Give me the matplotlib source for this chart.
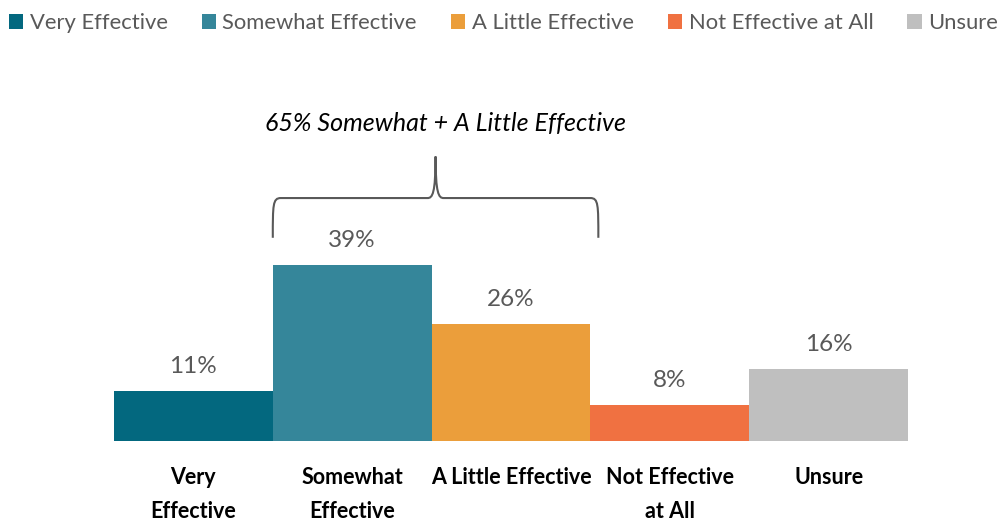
import numpy as np
import matplotlib
matplotlib.use("Agg")
import matplotlib.pyplot as plt
from matplotlib.patches import Patch
from matplotlib.path import Path
from matplotlib.patches import PathPatch

plt.rcParams['font.family'] = ['Lato', 'DejaVu Sans']

categories = ["Very Effective", "Somewhat Effective", "A Little Effective",
              "Not Effective at All", "Unsure"]
tick_labels = ["Very\nEffective", "Somewhat\nEffective", "A Little Effective",
               "Not Effective\nat All", "Unsure"]
values = [11, 39, 26, 8, 16]
colors = ["#03687F", "#35869A", "#EB9E3B", "#F07141", "#BFBFBF"]
brace_text = "65% Somewhat + A Little Effective"

fig = plt.figure(figsize=(10, 5.21), dpi=100)
ax = fig.add_axes([0.114, 0.1536, 0.794, 0.52])

x = np.arange(len(values))
ax.bar(x, values, width=1.0, color=colors)
ax.set_xlim(-0.5, len(values) - 0.5)
ax.set_ylim(0, 60)

for xi, v in zip(x, values):
    ax.annotate(f"{v}%", (xi, v), xytext=(0, 10), textcoords="offset points",
                ha="center", va="bottom", fontsize=17.5, color="#595959")

ax.set_xticks(x)
ax.set_xticklabels(tick_labels, fontsize=15.5, fontweight="bold", color="black",
                   linespacing=1.75, va="top")
ax.tick_params(axis="x", length=0, pad=19)
ax.set_yticks([])
for s in ax.spines.values():
    s.set_visible(False)

# curly brace over the middle two bars
x0, x1 = 0.5, 2.55
xm = (x0 + x1) / 2
y0, y1, y2 = 45.0, 53.8, 63.0
r = 0.05
verts = [
    (x0, y0), (x0, y1 - 1.5), (x0, y1), (x0 + r, y1),
    (xm - r, y1),
    (xm - 0.02, y1), (xm, y1 + 1.0), (xm, y2),
    (xm, y1 + 1.0), (xm + 0.02, y1), (xm + r, y1),
    (x1 - r, y1),
    (x1, y1), (x1, y1 - 1.5), (x1, y0),
]
codes = [Path.MOVETO, Path.CURVE4, Path.CURVE4, Path.CURVE4,
         Path.LINETO,
         Path.CURVE4, Path.CURVE4, Path.CURVE4,
         Path.CURVE4, Path.CURVE4, Path.CURVE4,
         Path.LINETO,
         Path.CURVE4, Path.CURVE4, Path.CURVE4]
ax.add_patch(PathPatch(Path(verts, codes), fill=False, edgecolor="#595959",
                       linewidth=1.5, clip_on=False))
ax.text(xm + 0.06, 70.2, brace_text, ha="center", va="center", fontsize=18,
        style="italic", color="black")

handles = [Patch(facecolor=c, label=l) for c, l in zip(colors, categories)]
leg = fig.legend(handles=handles, loc="upper left", bbox_to_anchor=(-0.011, 1.012),
                 ncol=5, frameon=False, fontsize=15.8, handlelength=0.65,
                 handleheight=0.65, handletextpad=0.3, columnspacing=1.55)
for t in leg.get_texts():
    t.set_color("#595959")

fig.savefig("out.png", dpi=100)
